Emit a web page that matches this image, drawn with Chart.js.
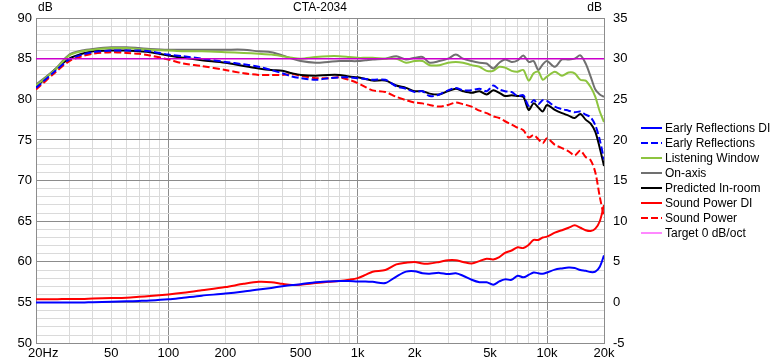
<!DOCTYPE html>
<html>
<head>
<meta charset="utf-8">
<title>CTA-2034</title>
<script src="https://cdn.jsdelivr.net/npm/chart.js@4.4.1/dist/chart.umd.min.js"></script>
<style>
  html, body { margin: 0; padding: 0; background: #fff; }
  #wrap { width: 780px; height: 360px; position: relative; }
</style>
</head>
<body>
<div id="wrap"><canvas id="spin"></canvas></div>
<script>
// Frequencies (Hz) shared by every curve
const freqs = [20, 25, 30, 35, 40, 50, 60, 70, 80, 100, 120, 150, 200, 250, 300, 350, 400, 450, 500, 600,
  700, 800, 900, 1000, 1100, 1200, 1400, 1600, 1800, 2000, 2200, 2400, 2700, 3000, 3300, 3600, 4000, 4400, 4800, 5200,
  5600, 6000, 6500, 7000, 7500, 8000, 8500, 9000, 9500, 10000, 11000, 12000, 13000, 14000, 15000, 16000, 17000, 18000, 19000, 20000];

// SPL curves (dB, left axis)
const onAxis = [81.8, 83.6, 85.5, 86.0, 86.2, 86.4, 86.4, 86.3, 86.2, 86.1, 86.1, 86.1, 86.1, 86.1, 85.9, 85.8, 85.4, 85.0, 84.7, 84.5,
  84.6, 84.7, 84.7, 84.7, 84.8, 84.9, 85.0, 85.3, 84.9, 85.1, 85.2, 84.5, 84.7, 85.0, 85.5, 85.0, 84.7, 84.5, 84.4, 83.8,
  84.5, 84.9, 84.6, 84.8, 85.4, 84.6, 84.7, 83.6, 84.3, 84.7, 84.0, 84.9, 84.9, 85.0, 85.4, 84.4, 82.8, 81.2, 80.6, 80.3];
const listeningWindow = [81.7, 83.5, 85.4, 85.9, 86.1, 86.3, 86.3, 86.2, 86.1, 86.0, 85.9, 85.9, 85.8, 85.7, 85.6, 85.5, 85.3, 85.1, 85.0, 85.2,
  85.3, 85.3, 85.2, 85.1, 85.1, 85.1, 85.0, 85.0, 84.5, 84.7, 84.7, 84.2, 84.2, 84.5, 84.6, 84.5, 84.2, 84.0, 83.5, 83.5,
  84.0, 83.9, 83.5, 83.4, 83.6, 82.3, 83.2, 83.4, 82.4, 82.8, 83.4, 82.9, 83.3, 83.2, 82.4, 82.3, 81.5, 80.3, 78.5, 77.2];
const predictedInRoom = [81.5, 83.6, 85.0, 85.6, 85.9, 86.0, 86.0, 85.9, 85.8, 85.4, 85.1, 84.8, 84.5, 84.1, 83.8, 83.6, 83.5, 83.2, 83.0, 82.9,
  83.0, 83.0, 82.8, 82.7, 82.5, 82.3, 82.3, 81.7, 81.4, 81.0, 81.0, 80.7, 80.6, 81.0, 81.3, 81.0, 80.8, 81.0, 80.6, 81.1,
  80.8, 80.4, 80.5, 80.4, 80.3, 78.7, 79.5, 79.0, 78.5, 79.3, 78.7, 78.3, 78.0, 77.7, 78.2, 77.5, 77.0, 76.0, 74.0, 71.8];
const earlyReflections = [81.4, 83.4, 84.9, 85.5, 85.8, 86.0, 86.0, 86.0, 85.9, 85.5, 85.3, 85.0, 84.6, 84.3, 84.0, 83.6, 83.2, 82.8, 82.6, 82.4,
  82.6, 82.7, 82.7, 82.6, 82.5, 82.4, 82.4, 81.6, 81.3, 80.9, 81.0, 80.4, 80.6, 81.1, 81.4, 81.1, 81.1, 81.3, 81.0, 81.7,
  81.2, 81.0, 80.9, 80.4, 80.5, 79.2, 79.9, 79.4, 79.9, 79.8, 79.1, 78.8, 78.6, 78.4, 78.5, 78.1, 77.8, 76.8, 75.0, 72.6];
const soundPower = [81.2, 83.2, 84.7, 85.3, 85.6, 85.8, 85.7, 85.6, 85.4, 84.9, 84.4, 84.1, 83.6, 83.2, 83.0, 83.0, 83.0, 83.1, 82.9, 82.6,
  82.6, 82.7, 82.4, 82.0, 81.5, 81.1, 80.9, 80.3, 79.9, 79.6, 79.5, 79.3, 79.1, 79.3, 79.6, 79.4, 79.1, 78.6, 78.3, 77.9,
  77.7, 77.3, 76.9, 76.5, 76.2, 75.3, 75.6, 75.1, 74.6, 75.2, 74.4, 74.0, 73.6, 73.1, 73.7, 72.9, 72.5, 71.0, 68.0, 65.5];

// Directivity indices (dB, right axis)
const earlyReflectionsDI = [0.0, 0.0, 0.0, 0.0, 0.05, 0.1, 0.15, 0.2, 0.25, 0.4, 0.6, 0.85, 1.1, 1.35, 1.6, 1.8, 2.0, 2.15, 2.25, 2.5,
  2.6, 2.65, 2.65, 2.6, 2.6, 2.55, 2.4, 3.2, 3.8, 3.85, 3.6, 3.55, 3.65, 3.5, 3.6, 3.3, 2.8, 2.5, 2.5, 2.2,
  2.6, 2.85, 2.8, 3.3, 3.1, 3.4, 3.7, 3.6, 3.55, 3.7, 4.05, 4.2, 4.3, 4.25, 4.0, 3.9, 3.75, 3.8, 4.4, 5.8];
const soundPowerDI = [0.4, 0.4, 0.45, 0.45, 0.5, 0.55, 0.6, 0.7, 0.8, 1.0, 1.2, 1.5, 1.9, 2.3, 2.55, 2.5, 2.3, 2.15, 2.2, 2.4,
  2.55, 2.65, 2.8, 3.0, 3.4, 3.8, 4.0, 4.7, 4.9, 5.0, 4.8, 4.8, 5.0, 5.2, 5.2, 5.0, 4.8, 5.1, 5.4, 5.3,
  5.6, 6.1, 6.4, 6.8, 6.7, 7.1, 7.7, 7.7, 8.0, 8.1, 8.6, 8.9, 9.2, 9.5, 9.2, 8.9, 8.8, 9.1, 10.0, 12.0];

// Target 0 dB/oct
const targetFreqs = [20, 20000];
const targetLevel = [85, 85];

// Axis ticks
const xGrid = [20, 30, 40, 50, 60, 70, 80, 90, 100, 200, 300, 400, 500, 600, 700, 800, 900,
  1000, 2000, 3000, 4000, 5000, 6000, 7000, 8000, 9000, 10000, 20000];
const xMajor = [100, 1000, 10000];
const xLabelValues = [20, 50, 100, 200, 500, 1000, 2000, 5000, 10000, 20000];
const xLabelText = ['    20Hz', '50', '100', '200', '500', '1k', '2k', '5k', '10k', '20k'];
const yLeftTicks = [50, 51, 52, 53, 54, 55, 56, 57, 58, 59, 60, 61, 62, 63, 64, 65, 66, 67, 68, 69, 70,
  71, 72, 73, 74, 75, 76, 77, 78, 79, 80, 81, 82, 83, 84, 85, 86, 87, 88, 89, 90];
const yRightTicks = [-5, 0, 5, 10, 15, 20, 25, 30, 35];

const FONT = "'Liberation Sans', Arial, sans-serif";
Chart.defaults.font.family = FONT;
Chart.defaults.color = '#000';

const MAJOR = '#8c8c8c';
const MINOR = '#dadada';

function pts(ys, xs) {
  return (xs || freqs).map((f, i) => ({ x: f, y: ys[i] }));
}

function curve(label, ys, color, opts) {
  return Object.assign({
    label: label,
    data: pts(ys),
    borderColor: color,
    backgroundColor: color,
    borderWidth: 2,
    pointRadius: 0,
    tension: 0.3,
    fill: false,
    yAxisID: 'y'
  }, opts || {});
}

const datasets = [
  curve('Early Reflections DI', earlyReflectionsDI, '#0000ff', { yAxisID: 'y1' }),
  curve('Early Reflections', earlyReflections, '#0000ff', { borderDash: [7, 3] }),
  curve('Listening Window', listeningWindow, '#8dc43f'),
  curve('On-axis', onAxis, '#707070'),
  curve('Predicted In-room', predictedInRoom, '#000000'),
  curve('Sound Power DI', soundPowerDI, '#ff0000', { yAxisID: 'y1' }),
  curve('Sound Power', soundPower, '#ff0000', { borderDash: [7, 3] }),
  {
    label: 'Target 0 dB/oct',
    data: pts(targetLevel, targetFreqs),
    borderColor: '#cc00cc',
    legendColor: '#ff88ff',
    borderWidth: 1.5,
    pointRadius: 0,
    yAxisID: 'y',
    order: -1
  }
];

// Title, "dB" unit labels and the legend on the right
const decorations = {
  id: 'decorations',
  afterDraw(chart) {
    const ctx = chart.ctx;
    const area = chart.chartArea;
    ctx.save();
    ctx.fillStyle = '#000';
    ctx.font = '12px ' + FONT;
    ctx.textBaseline = 'middle';
    ctx.textAlign = 'center';
    ctx.fillText('CTA-2034', (area.left + area.right) / 2, 8);
    ctx.textAlign = 'left';
    ctx.fillText('dB', area.left + 2, 8);
    ctx.textAlign = 'right';
    ctx.fillText('dB', area.right - 2, 8);

    ctx.textAlign = 'left';
    chart.data.datasets.forEach((ds, i) => {
      const y = 128 + i * 15;
      ctx.strokeStyle = ds.legendColor || ds.borderColor;
      ctx.lineWidth = 2;
      ctx.setLineDash(ds.borderDash || []);
      ctx.beginPath();
      ctx.moveTo(641, y);
      ctx.lineTo(662, y);
      ctx.stroke();
      ctx.setLineDash([]);
      ctx.fillText(ds.label, 665, y + 0.5);
    });
    ctx.restore();
  }
};

new Chart(document.getElementById('spin'), {
  type: 'line',
  data: { datasets: datasets },
  options: {
    responsive: true,
    maintainAspectRatio: false,
    animation: false,
    layout: { padding: { top: 18, left: 0, right: 0, bottom: 0 } },
    plugins: {
      legend: { display: false },
      tooltip: { enabled: false }
    },
    scales: {
      x: {
        type: 'logarithmic',
        min: 20,
        max: 20000,
        afterBuildTicks: (s) => { s.ticks = xGrid.map(v => ({ value: v })); },
        afterFit: (s) => { s.height = 15; },
        ticks: {
          autoSkip: false,
          maxRotation: 0,
          minRotation: 0,
          padding: 2,
          font: { size: 13 },
          callback: (v) => {
            const i = xLabelValues.indexOf(v);
            return i < 0 ? '' : xLabelText[i];
          }
        },
        grid: {
          drawTicks: false,
          color: (c) => xMajor.includes(c.tick && c.tick.value) ? MAJOR : MINOR
        },
        border: { color: MAJOR }
      },
      y: {
        position: 'left',
        min: 50,
        max: 90,
        afterBuildTicks: (s) => { s.ticks = yLeftTicks.map(v => ({ value: v })); },
        afterFit: (s) => { s.width = 36; },
        ticks: {
          autoSkip: false,
          padding: 4,
          font: { size: 13 },
          callback: (v) => (v % 5 === 0 ? String(v) : '')
        },
        grid: {
          drawTicks: false,
          color: (c) => (c.tick && c.tick.value % 5 === 0) ? MAJOR : MINOR
        },
        border: { color: MAJOR }
      },
      y1: {
        position: 'right',
        min: -5,
        max: 35,
        afterBuildTicks: (s) => { s.ticks = yRightTicks.map(v => ({ value: v })); },
        afterFit: (s) => { s.width = 176; },
        ticks: {
          autoSkip: false,
          padding: 9,
          font: { size: 13 },
          callback: (v) => String(v)
        },
        grid: { drawOnChartArea: false, drawTicks: false },
        border: { color: MAJOR }
      }
    }
  },
  plugins: [decorations]
});
</script>
</body>
</html>
